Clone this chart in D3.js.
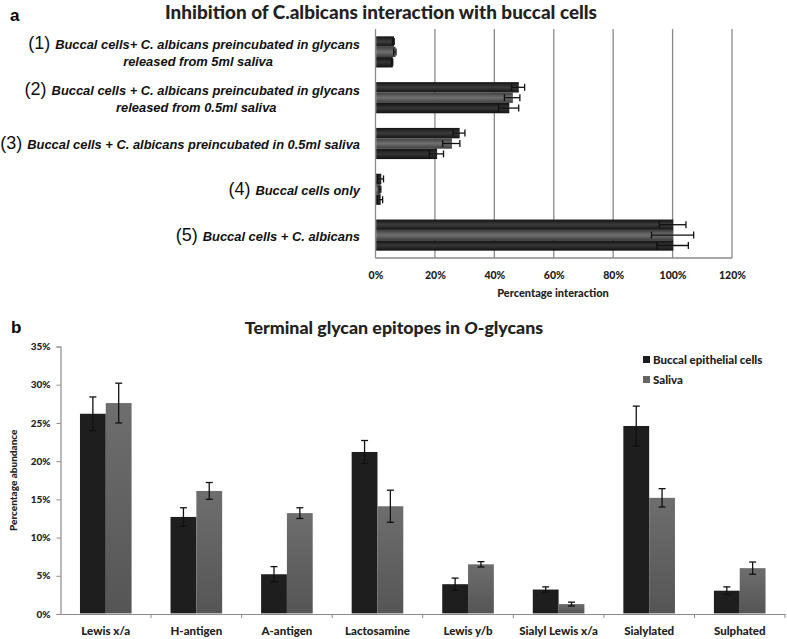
<!DOCTYPE html>
<html>
<head>
<meta charset="utf-8">
<script src="https://cdn.jsdelivr.net/npm/d3@7"></script>
<style>
  html, body { margin: 0; padding: 0; background: #fff; }
  svg { display: block; }
</style>
</head>
<body>
<svg id="chart" width="787" height="639"></svg>
<script>
// ---------------- Panel a data ----------------
const aNums = ["(1)", "(2)", "(3)", "(4)", "(5)"];
const aLabelLines = [
  ["Buccal cells+ C. albicans preincubated in glycans", "released from 5ml saliva"],
  ["Buccal cells + C. albicans preincubated in glycans", "released from 0.5ml saliva"],
  ["Buccal cells + C. albicans preincubated in 0.5ml saliva"],
  ["Buccal cells only"],
  ["Buccal cells + C. albicans"]
];
const aRep1 = [6.0, 48.0, 28.1, 1.7, 100];
const aRep2 = [6.5, 46.0, 25.5, 1.5, 100];
const aRep3 = [5.6, 44.8, 20.5, 1.5, 100];
const aErr1 = [0.3, 2.2, 2.0, 1.0, 4.5];
const aErr2 = [0.4, 2.6, 2.9, 0.3, 7.1];
const aErr3 = [0.2, 3.4, 2.4, 0.9, 5.3];
const aTicks = [0, 20, 40, 60, 80, 100, 120];

// ---------------- Panel b data ----------------
const bCategories = ["Lewis x/a", "H-antigen", "A-antigen", "Lactosamine", "Lewis y/b", "Sialyl Lewis x/a", "Sialylated", "Sulphated"];
const bSeriesNames = ["Buccal epithelial cells", "Saliva"];
const bBuccal = [26.2, 12.7, 5.2, 21.2, 3.9, 3.2, 24.6, 3.05];
const bSaliva = [27.6, 16.1, 13.2, 14.1, 6.5, 1.3, 15.2, 6.0];
const bBuccalErr = [2.2, 1.2, 1.0, 1.5, 0.8, 0.35, 2.6, 0.5];
const bSalivaErr = [2.6, 1.1, 0.7, 2.1, 0.35, 0.25, 1.2, 0.8];
const bTicks = [0, 5, 10, 15, 20, 25, 30, 35];

const svg = d3.select("#chart");
const defs = svg.append("defs");

function hGrad(id, edge, mid) {
  const g = defs.append("linearGradient").attr("id", id)
    .attr("x1", 0).attr("y1", 0).attr("x2", 0).attr("y2", 1);
  g.append("stop").attr("offset", "0%").attr("stop-color", edge);
  g.append("stop").attr("offset", "50%").attr("stop-color", mid);
  g.append("stop").attr("offset", "100%").attr("stop-color", edge);
}
hGrad("ga1", "#141414", "#3c3c3c");
hGrad("ga2", "#3e3e3e", "#707070");
hGrad("ga3", "#121212", "#363636");

const vg = defs.append("linearGradient").attr("id", "gb2")
  .attr("x1", 0).attr("y1", 0).attr("x2", 0).attr("y2", 1);
vg.append("stop").attr("offset", "0%").attr("stop-color", "#6e6e6e");
vg.append("stop").attr("offset", "100%").attr("stop-color", "#555555");

const titleFont = "Lato, 'Open Sans', sans-serif";
const labelFont = "'Liberation Sans', Arial, sans-serif";

// ================= Panel a =================
const aLeft = 375.5, aRight = 732, aTop = 29, aBottom = 258;
const ax = d3.scaleLinear().domain([0, 120]).range([aLeft, aRight]);
const ay = d3.scaleBand().domain(d3.range(aNums.length)).range([aTop, aBottom]).paddingInner(0.32).paddingOuter(0.16);
const aInner = d3.scaleBand().domain([0, 1, 2]).range([0, ay.bandwidth()]);

svg.append("text").attr("x", 10).attr("y", 21).text("a")
  .attr("font-family", labelFont).attr("font-weight", "bold").attr("font-size", 17);

svg.append("text").attr("x", 381).attr("y", 18.5).attr("text-anchor", "middle")
  .text("Inhibition of C.albicans interaction with buccal cells")
  .attr("font-family", titleFont).attr("font-weight", "900").attr("font-size", 18.9).attr("fill", "#222");

const aGrid = svg.append("g");
aGrid.selectAll("line.grid").data(aTicks.slice(1)).join("line")
  .attr("x1", d => ax(d)).attr("x2", d => ax(d))
  .attr("y1", aTop).attr("y2", aBottom)
  .attr("stroke", "#8a8a8a").attr("stroke-width", 1.3);
aGrid.append("line").attr("x1", aLeft).attr("x2", aLeft).attr("y1", aTop).attr("y2", aBottom)
  .attr("stroke", "#8a8a8a").attr("stroke-width", 1.3);
aGrid.append("line").attr("x1", aLeft).attr("x2", aRight).attr("y1", aBottom).attr("y2", aBottom)
  .attr("stroke", "#8a8a8a").attr("stroke-width", 1.3);

const aAxis = svg.append("g").attr("transform", `translate(0,${aBottom})`)
  .call(d3.axisBottom(ax).tickValues(aTicks).tickFormat(d => d + "%").tickSize(0).tickPadding(14));
aAxis.select(".domain").remove();
aAxis.selectAll("text").attr("font-family", titleFont).attr("font-weight", "900")
  .attr("font-size", 10.5).attr("fill", "#222");

svg.append("text").attr("x", 553).attr("y", 297).attr("text-anchor", "middle")
  .text("Percentage interaction")
  .attr("font-family", titleFont).attr("font-weight", "900").attr("font-size", 11).attr("fill", "#222");

const aSeries = [
  { vals: aRep1, errs: aErr1, fill: "url(#ga1)" },
  { vals: aRep2, errs: aErr2, fill: "url(#ga2)" },
  { vals: aRep3, errs: aErr3, fill: "url(#ga3)" }
];
aSeries.forEach((s, si) => {
  const g = svg.append("g");
  g.selectAll("rect").data(s.vals).join("rect")
    .attr("x", ax(0) + 0.7)
    .attr("y", (d, i) => ay(i) + aInner(si))
    .attr("width", d => ax(d) - ax(0))
    .attr("height", aInner.bandwidth())
    .attr("fill", s.fill);
  const eb = g.selectAll("g.err").data(s.vals).join("g");
  eb.append("line")
    .attr("x1", (d, i) => ax(d - s.errs[i])).attr("x2", (d, i) => ax(d + s.errs[i]))
    .attr("y1", (d, i) => ay(i) + aInner(si) + aInner.bandwidth() / 2)
    .attr("y2", (d, i) => ay(i) + aInner(si) + aInner.bandwidth() / 2)
    .attr("stroke", "#111").attr("stroke-width", 1.3);
  [-1, 1].forEach(sg => {
    eb.append("line")
      .attr("x1", (d, i) => ax(d + sg * s.errs[i])).attr("x2", (d, i) => ax(d + sg * s.errs[i]))
      .attr("y1", (d, i) => ay(i) + aInner(si) + aInner.bandwidth() / 2 - 3.5)
      .attr("y2", (d, i) => ay(i) + aInner(si) + aInner.bandwidth() / 2 + 3.5)
      .attr("stroke", "#111").attr("stroke-width", 1.3);
  });
});

// category labels for panel a
const aLab = svg.append("g");
aNums.forEach((num, i) => {
  const lines = aLabelLines[i];
  const cy = ay(i) + ay.bandwidth() / 2;
  const lh = 17;
  const g = aLab.append("g");
  const t = g.append("text").attr("y", cy - (lines.length - 1) * lh / 2 + 5.5)
    .attr("text-anchor", "end").attr("x", 360);
  t.append("tspan").text(num + " ").attr("font-family", labelFont).attr("font-size", 18).attr("fill", "#111");
  t.append("tspan").text(lines[0]).attr("font-family", labelFont).attr("font-style", "italic")
    .attr("font-weight", "bold").attr("font-size", 12.9).attr("fill", "#111");
  if (lines.length > 1) {
    const bb = t.node().getBBox();
    g.append("text").attr("x", bb.x + bb.width / 2 + 4).attr("y", cy + lh / 2 + 5.5)
      .attr("text-anchor", "middle").text(lines[1])
      .attr("font-family", labelFont).attr("font-style", "italic")
      .attr("font-weight", "bold").attr("font-size", 12.9).attr("fill", "#111");
  }
});

// ================= Panel b =================
const bLeft = 60.5, bRight = 785, bTop = 346.5, bBottom = 614;
const by = d3.scaleLinear().domain([0, 35]).range([bBottom, bTop]);
const bx = d3.scaleBand().domain(bCategories).range([bLeft, bRight]).paddingInner(0.43).paddingOuter(0.215);
const bInner = d3.scaleBand().domain([0, 1]).range([0, bx.bandwidth()]);

svg.append("text").attr("x", 11).attr("y", 333).text("b")
  .attr("font-family", labelFont).attr("font-weight", "bold").attr("font-size", 17);

const bt = svg.append("text").attr("x", 394).attr("y", 334).attr("text-anchor", "middle")
  .attr("font-family", titleFont).attr("font-weight", "900").attr("font-size", 17.8).attr("fill", "#222");
bt.append("tspan").text("Terminal glycan epitopes in ");
bt.append("tspan").text("O").attr("font-style", "italic");
bt.append("tspan").text("-glycans");

const yAxis = svg.append("g").attr("transform", `translate(${bLeft},0)`)
  .call(d3.axisLeft(by).tickValues(bTicks).tickFormat(d => d + "%").tickSize(4).tickPadding(6));
yAxis.select(".domain").attr("stroke", "#8a8a8a").attr("stroke-width", 1.2);
yAxis.selectAll(".tick line").attr("stroke", "#8a8a8a");
yAxis.selectAll("text").attr("font-family", titleFont).attr("font-weight", "900")
  .attr("font-size", 10).attr("fill", "#222");

const bTickPos = d3.range(bCategories.length + 1).map(i => bLeft + i * (bRight - bLeft) / bCategories.length);
const xAxis = svg.append("g").attr("transform", `translate(0,${bBottom})`)
  .call(d3.axisBottom(bx).tickSize(0).tickPadding(13));
xAxis.select(".domain").attr("stroke", "#8a8a8a").attr("stroke-width", 1.2);
xAxis.selectAll("text").attr("font-family", titleFont).attr("font-weight", "900")
  .attr("font-size", 11.5).attr("fill", "#222");
xAxis.selectAll("line.sep").data(bTickPos.slice(1)).join("line").attr("class", "sep")
  .attr("x1", d => d).attr("x2", d => d).attr("y1", 0).attr("y2", 4)
  .attr("stroke", "#8a8a8a");

svg.append("text").attr("transform", `translate(17,${(bTop + bBottom) / 2}) rotate(-90)`)
  .attr("text-anchor", "middle").text("Percentage abundance")
  .attr("font-family", titleFont).attr("font-weight", "900").attr("font-size", 10).attr("fill", "#222");

const bSeries = [
  { vals: bBuccal, errs: bBuccalErr, fill: "#1e1e1e" },
  { vals: bSaliva, errs: bSalivaErr, fill: "url(#gb2)" }
];
bSeries.forEach((s, si) => {
  const g = svg.append("g");
  g.selectAll("rect").data(s.vals).join("rect")
    .attr("x", (d, i) => bx(bCategories[i]) + bInner(si))
    .attr("y", d => by(d))
    .attr("width", bInner.bandwidth())
    .attr("height", d => by(0) - by(d) - 0.6)
    .attr("fill", s.fill);
  const eb = g.selectAll("g.err").data(s.vals).join("g");
  const cx = (d, i) => bx(bCategories[i]) + bInner(si) + bInner.bandwidth() / 2;
  eb.append("line").attr("x1", cx).attr("x2", cx)
    .attr("y1", (d, i) => by(d + s.errs[i])).attr("y2", (d, i) => by(d - s.errs[i]))
    .attr("stroke", "#111").attr("stroke-width", 1.3);
  [-1, 1].forEach(sg => {
    eb.append("line")
      .attr("x1", (d, i) => cx(d, i) - 3.5).attr("x2", (d, i) => cx(d, i) + 3.5)
      .attr("y1", (d, i) => by(d + sg * s.errs[i])).attr("y2", (d, i) => by(d + sg * s.errs[i]))
      .attr("stroke", "#111").attr("stroke-width", 1.3);
  });
});

// legend
const leg = svg.append("g").attr("transform", "translate(643,355)");
bSeriesNames.forEach((name, i) => {
  const row = leg.append("g").attr("transform", `translate(0,${i * 20})`);
  row.append("rect").attr("width", 7).attr("height", 7).attr("y", 1)
    .attr("fill", i === 0 ? "#1e1e1e" : "#666");
  row.append("text").attr("x", 10).attr("y", 8.8).text(name)
    .attr("font-family", titleFont).attr("font-weight", "900").attr("font-size", 11.5).attr("fill", "#222");
});
</script>
</body>
</html>
